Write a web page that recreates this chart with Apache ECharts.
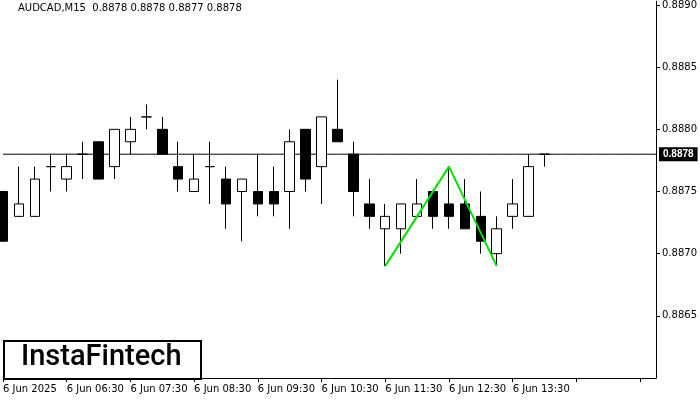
<!DOCTYPE html>
<html>
<head>
<meta charset="utf-8">
<script src="https://cdn.jsdelivr.net/npm/echarts@6/dist/echarts.min.js"></script>
<style>html,body{margin:0;padding:0;background:#fff}#c{width:700px;height:400px}</style>
</head>
<body>
<div id="c"></div>
<script>
// tick labels, one every 4 bars (15 min bars)
var tickLabels = ['6 Jun 2025','6 Jun 06:30','6 Jun 07:30','6 Jun 08:30','6 Jun 09:30','6 Jun 10:30','6 Jun 11:30','6 Jun 12:30','6 Jun 13:30'];
// [open, close, low, high]
var candles = [
  [0.8875,0.8871,0.8871,0.8875],
  [0.8873,0.8874,0.8873,0.8877],
  [0.8873,0.8876,0.8873,0.8877],
  [0.8877,0.8877,0.8875,0.8878],
  [0.8876,0.8877,0.8875,0.8878],
  [0.8878,0.8878,0.8876,0.8879],
  [0.8879,0.8876,0.8876,0.8879],
  [0.8877,0.8880,0.8876,0.8880],
  [0.8879,0.8880,0.8878,0.8881],
  [0.8881,0.8881,0.8880,0.8882],
  [0.8880,0.8878,0.8878,0.8881],
  [0.8877,0.8876,0.8875,0.8879],
  [0.8875,0.8876,0.8875,0.8878],
  [0.8877,0.8877,0.8874,0.8879],
  [0.8876,0.8874,0.8872,0.8877],
  [0.8875,0.8876,0.8871,0.8876],
  [0.8875,0.8874,0.8873,0.8878],
  [0.8875,0.8874,0.8873,0.8877],
  [0.8875,0.8879,0.8872,0.8880],
  [0.8880,0.8876,0.8875,0.8880],
  [0.8877,0.8881,0.8874,0.8881],
  [0.8880,0.8879,0.8879,0.8884],
  [0.8878,0.8875,0.8873,0.8879],
  [0.8874,0.8873,0.8872,0.8876],
  [0.8872,0.8873,0.8869,0.8874],
  [0.8872,0.8874,0.8870,0.8874],
  [0.8873,0.8874,0.8873,0.8876],
  [0.8875,0.8873,0.8872,0.8875],
  [0.8874,0.8873,0.8872,0.8877],
  [0.8874,0.8872,0.8872,0.8876],
  [0.8873,0.8871,0.8870,0.8875],
  [0.8870,0.8872,0.8869,0.8873],
  [0.8873,0.8874,0.8872,0.8876],
  [0.8873,0.8877,0.8873,0.8878],
  [0.8878,0.8878,0.8877,0.8878]
];
var patternIdx = [24, 28, 31];
var patternVal = [0.8869, 0.8877, 0.8869];
var lastPrice = 0.8878;
var slots = 42;

var cats = [];
for (var i = 0; i < slots; i++) cats.push(i % 4 === 0 && tickLabels[i/4] ? tickLabels[i/4] : '');
var pattern = [];
for (var k = 0; k < patternIdx.length; k++) pattern.push([patternIdx[k], patternVal[k]]);
var priceLine = [];
for (var j = 0; j < slots; j++) priceLine.push(lastPrice);

var chart = echarts.init(document.getElementById('c'));
chart.setOption({
  animation: false,
  grid: {left: 3, right: 40, top: 0, bottom: 22},
  xAxis: {
    type: 'category', data: cats, boundaryGap: false,
    axisLine: {lineStyle: {color: '#000'}},
    axisTick: {interval: 3, length: 4, lineStyle: {color: '#000'}},
    axisLabel: {interval: 3, align: 'left', color: '#000', fontSize: 10, fontFamily: 'DejaVu Sans', margin: 6},
    splitLine: {show: false}
  },
  yAxis: {
    type: 'value', position: 'right', min: 0.8860, max: 0.88903, interval: 0.0005,
    axisLine: {show: true, lineStyle: {color: '#000'}},
    axisTick: {show: true, length: 4, lineStyle: {color: '#000'}},
    axisLabel: {showMinLabel: false, showMaxLabel: false, color: '#000', fontSize: 10, fontFamily: 'DejaVu Sans', margin: 6,
      formatter: function(v){ return v.toFixed(4); }},
    splitLine: {show: false}
  },
  graphic: [
    {type: 'text', left: 18, top: 3, style: {text: 'AUDCAD,M15  0.8878 0.8878 0.8877 0.8878', fill: '#000', font: '10px DejaVu Sans'}},
    {type: 'rect', left: 3, top: 340, shape: {width: 197, height: 38}, style: {fill: '#fff', stroke: '#000', lineWidth: 2}, z: 10},
    {type: 'text', left: 21, top: 343, style: {text: 'InstaFintech', fill: '#000', font: '500 29px Roboto'}, z: 11}
  ],
  series: [
    {
      type: 'line', data: priceLine, symbol: 'none', silent: true,
      lineStyle: {color: '#000', width: 1}, z: 1,
      endLabel: {show: true, formatter: '0.8878', color: '#fff', backgroundColor: '#000', fontSize: 10, fontWeight: 'bold', padding: [2, 4], distance: 3}
    },
    {
      type: 'candlestick', data: candles, barWidth: 10, z: 3,
      itemStyle: {color: '#fff', color0: '#000', borderColor: '#000', borderColor0: '#000', borderWidth: 1}
    },
    {
      type: 'line', data: pattern, symbol: 'none',
      lineStyle: {color: '#00e000', width: 2}, z: 5
    }
  ]
});
</script>
</body>
</html>
